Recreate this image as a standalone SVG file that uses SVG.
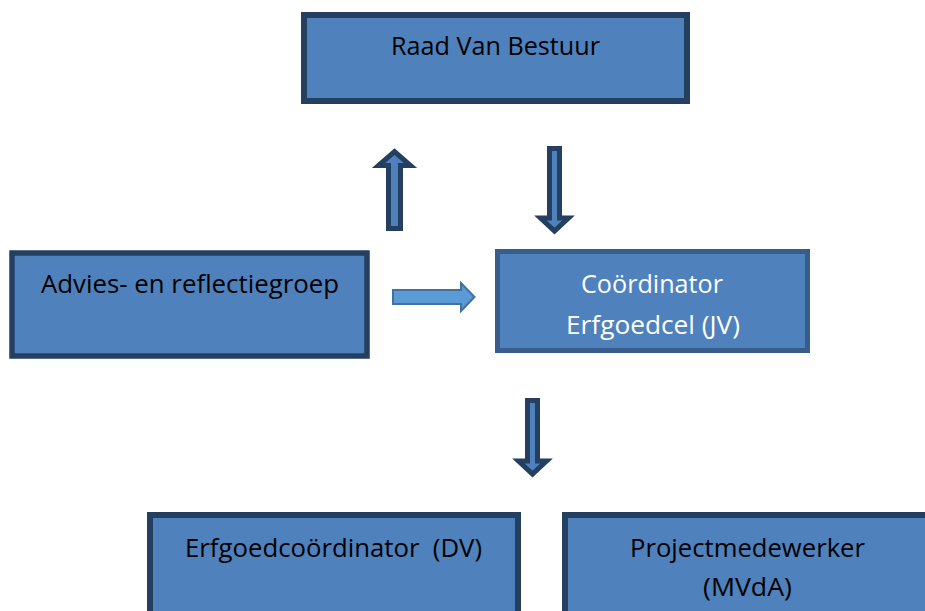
<svg xmlns="http://www.w3.org/2000/svg" width="925" height="611" viewBox="0 0 925 611">
<style>
.box{fill:#4F81BD;stroke:#243F60;stroke-width:6}
.box2{fill:#4F81BD;stroke:#385D8A;stroke-width:5}
.t{font-family:"Open Sans","Liberation Sans",sans-serif;font-size:25px;text-anchor:middle;fill:#000;white-space:pre}
.w{fill:#fff}
.arr{fill:#4F81BD;stroke:#243F60;stroke-width:5;stroke-linejoin:miter;stroke-miterlimit:10}
.arr2{fill:#5B9BD5;stroke:#41719C;stroke-width:2;stroke-linejoin:miter}
</style>
<rect width="925" height="611" fill="#fff"/>
<g id="raad">
<rect class="box" x="304" y="15" width="383" height="86"/>
<text class="t" x="495.5" y="55" textLength="209" lengthAdjust="spacingAndGlyphs">Raad Van Bestuur</text>
</g>
<g id="advies">
<rect class="box" x="12" y="253" width="355" height="103" style="stroke-width:5.5"/>
<text class="t" x="190" y="293" textLength="298" lengthAdjust="spacingAndGlyphs">Advies- en reflectiegroep</text>
</g>
<g id="coordinator">
<rect class="box2" x="497.5" y="251.5" width="310" height="99"/>
<text class="t w" x="652" y="293" textLength="142" lengthAdjust="spacingAndGlyphs">Coördinator</text>
<text class="t w" x="653" y="334" textLength="174" lengthAdjust="spacingAndGlyphs">Erfgoedcel (JV)</text>
</g>
<g id="erfgoedcoordinator">
<rect class="box" x="150" y="515" width="368" height="110"/>
<text class="t" x="333.5" y="557" textLength="297" lengthAdjust="spacingAndGlyphs">Erfgoedcoördinator  (DV)</text>
</g>
<g id="projectmedewerker">
<rect class="box" x="565" y="515" width="380" height="110"/>
<text class="t" x="747.5" y="557" textLength="235" lengthAdjust="spacingAndGlyphs">Projectmedewerker</text>
<text class="t" x="747.5" y="596" textLength="89" lengthAdjust="spacingAndGlyphs">(MVdA)</text>
</g>
<g id="connectors">
<path class="arr" d="M388.5,228.5 V165.5 H378.5 L394.5,151.5 L410.5,165.5 H400.5 V228.5 Z"/>
<path class="arr" d="M549.5,148.5 V218 H540.5 L554.5,231 L568.5,218 H559.5 V148.5 Z"/>
<path class="arr" d="M527.5,400.5 V461 H518.5 L532.5,474 L546.5,461 H537.5 V400.5 Z"/>
<path class="arr2" d="M393,290 H461 V283 L474.5,297 L461,311 V304 H393 Z"/>
</g>
</svg>
